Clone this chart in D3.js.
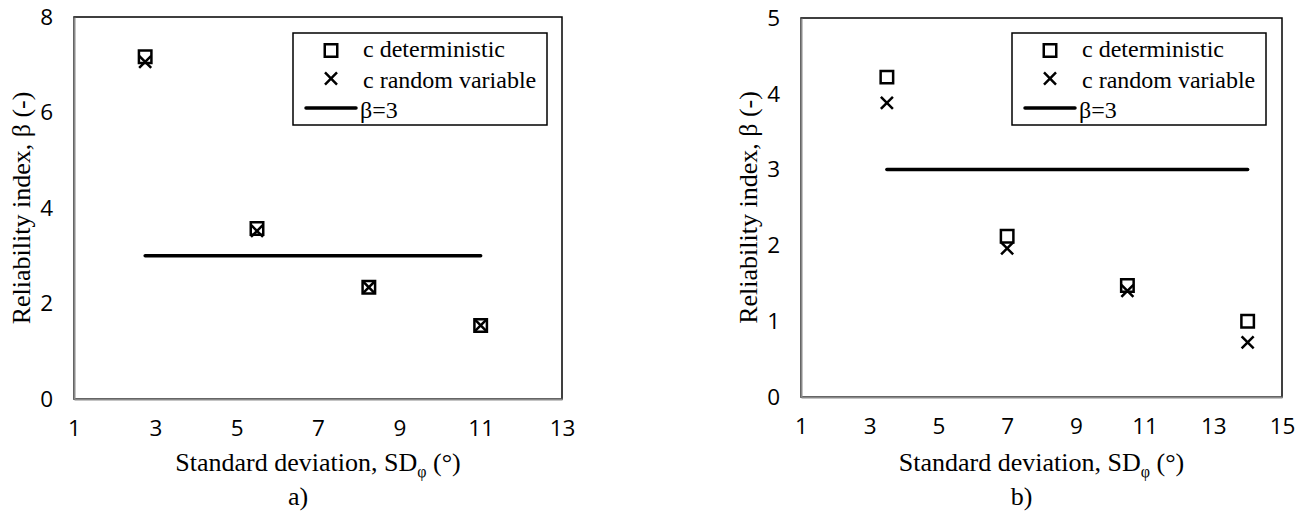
<!DOCTYPE html>
<html>
<head>
<meta charset="utf-8">
<script src="https://cdn.jsdelivr.net/npm/d3@7"></script>
<style>
  body { margin: 0; background: #fff; }
</style>
</head>
<body>
<div class="responsive-svg-container"></div>
<script>
// data
const sdA = [2.75, 5.5, 8.25, 11];
const detA = [7.17, 3.57, 2.34, 1.54];   // c deterministic
const rndA = [7.06, 3.52, 2.34, 1.54];   // c random variable
const xTicksA = [1, 3, 5, 7, 9, 11, 13];
const yTicksA = [0, 2, 4, 6, 8];

const sdB = [3.5, 7, 10.5, 14];
const detB = [4.22, 2.12, 1.47, 1.0];
const rndB = [3.88, 1.96, 1.40, 0.72];
const xTicksB = [1, 3, 5, 7, 9, 11, 13, 15];
const yTicksB = [0, 1, 2, 3, 4, 5];

const targetBeta = 3;
const legendLabels = ["c deterministic", "c random variable", "\u03b2=3"];
const captions = ["a)", "b)"];

const svg = d3.select(".responsive-svg-container")
    .append("svg")
    .attr("width", 1304)
    .attr("height", 515);

const serif = "'Liberation Serif', 'Times New Roman', serif";
const sans = "'Open Sans', Calibri, sans-serif";

const panels = [
  {sd: sdA, det: detA, rnd: rndA, xTicks: xTicksA, yTicks: yTicksA,
   left: 74, right: 562, top: 17, bottom: 399, legendX: 293, caption: captions[0]},
  {sd: sdB, det: detB, rnd: rndB, xTicks: xTicksB, yTicks: yTicksB,
   left: 801, right: 1282, top: 18, bottom: 397, legendX: 1012, caption: captions[1]}
];

const squareSymbol = d3.symbol(d3.symbolSquare, 156);
const crossSymbol = d3.symbol(d3.symbolX, 96);

const drawPanel = p => {
  const g = svg.append("g");

  const xScale = d3.scaleLinear()
      .domain(d3.extent(p.xTicks))
      .range([p.left, p.right]);
  const yScale = d3.scaleLinear()
      .domain(d3.extent(p.yTicks))
      .range([p.bottom, p.top]);

  // plot area border (top / right stay black)
  g.append("rect")
      .attr("x", p.left)
      .attr("y", p.top)
      .attr("width", p.right - p.left)
      .attr("height", p.bottom - p.top)
      .attr("fill", "none")
      .attr("stroke", "#000")
      .attr("stroke-width", 1.5);

  // axes, no tick marks, grey axis lines
  const xAxis = d3.axisBottom(xScale)
      .tickValues(p.xTicks)
      .tickSize(0)
      .tickPadding(21)
      .tickFormat(d3.format("d"));
  const yAxis = d3.axisLeft(yScale)
      .tickValues(p.yTicks)
      .tickSize(0)
      .tickPadding(21)
      .tickFormat(d3.format("d"));

  const gx = g.append("g")
      .attr("transform", `translate(0,${p.bottom})`)
      .call(xAxis);
  const gy = g.append("g")
      .attr("transform", `translate(${p.left},0)`)
      .call(yAxis);

  [gx, gy].forEach(ax => {
    ax.select(".domain").attr("stroke", "#8a8a8a").attr("stroke-width", 2);
    ax.selectAll("text")
        .attr("font-family", sans)
        .attr("font-size", 22.5)
        .attr("fill", "#000");
  });

  // beta = 3 target line over the data range
  g.append("line")
      .attr("x1", xScale(d3.min(p.sd)))
      .attr("x2", xScale(d3.max(p.sd)))
      .attr("y1", yScale(targetBeta))
      .attr("y2", yScale(targetBeta))
      .attr("stroke", "#000")
      .attr("stroke-width", 3.5)
      .attr("stroke-linecap", "round");

  // markers
  g.selectAll(".det")
      .data(p.sd)
      .join("path")
      .attr("class", "det")
      .attr("transform", (d, i) => `translate(${xScale(d)},${yScale(p.det[i])})`)
      .attr("d", squareSymbol)
      .attr("fill", "none")
      .attr("stroke", "#000")
      .attr("stroke-width", 2.5);

  g.selectAll(".rnd")
      .data(p.sd)
      .join("path")
      .attr("class", "rnd")
      .attr("transform", (d, i) => `translate(${xScale(d)},${yScale(p.rnd[i])})`)
      .attr("d", crossSymbol)
      .attr("fill", "none")
      .attr("stroke", "#000")
      .attr("stroke-width", 2.5);

  // legend box
  const lg = g.append("g").attr("transform", `translate(${p.legendX},33)`);
  lg.append("rect")
      .attr("width", 254)
      .attr("height", 92)
      .attr("fill", "#fff")
      .attr("stroke", "#000")
      .attr("stroke-width", 1.5);
  lg.append("path")
      .attr("transform", "translate(38,17.5)")
      .attr("d", squareSymbol)
      .attr("fill", "none")
      .attr("stroke", "#000")
      .attr("stroke-width", 2.5);
  lg.append("path")
      .attr("transform", "translate(38,45.5)")
      .attr("d", crossSymbol)
      .attr("fill", "none")
      .attr("stroke", "#000")
      .attr("stroke-width", 2.5);
  lg.append("line")
      .attr("x1", 13).attr("x2", 63)
      .attr("y1", 75).attr("y2", 75)
      .attr("stroke", "#000")
      .attr("stroke-width", 3.5)
      .attr("stroke-linecap", "round");
  lg.selectAll(".lab")
      .data(legendLabels)
      .join("text")
      .attr("class", "lab")
      .attr("x", (d, i) => i === 2 ? 67 : 70)
      .attr("y", (d, i) => 24 + i * 30.5)
      .attr("font-family", serif)
      .attr("font-size", 24)
      .attr("fill", "#000")
      .text(d => d);

  // axis titles
  const midX = (p.left + p.right) / 2;
  const xt = g.append("text")
      .attr("x", midX)
      .attr("y", 471)
      .attr("text-anchor", "middle")
      .attr("font-family", serif)
      .attr("font-size", 26)
      .attr("fill", "#000");
  xt.append("tspan").text("Standard deviation, SD");
  xt.append("tspan").attr("dy", 6).attr("font-size", 16).text("\u03c6");
  xt.append("tspan").attr("dy", -6).text(" (\u00b0)");

  g.append("text")
      .attr("transform", `translate(${p.left - 44},${(p.top + p.bottom) / 2}) rotate(-90)`)
      .attr("text-anchor", "middle")
      .attr("font-family", serif)
      .attr("font-size", 26)
      .attr("fill", "#000")
      .text("Reliability index, \u03b2 (-)");

  g.append("text")
      .attr("x", midX - 20)
      .attr("y", 505)
      .attr("text-anchor", "middle")
      .attr("font-family", serif)
      .attr("font-size", 26)
      .attr("fill", "#000")
      .text(p.caption);
};

panels.forEach(drawPanel);
</script>
</body>
</html>
